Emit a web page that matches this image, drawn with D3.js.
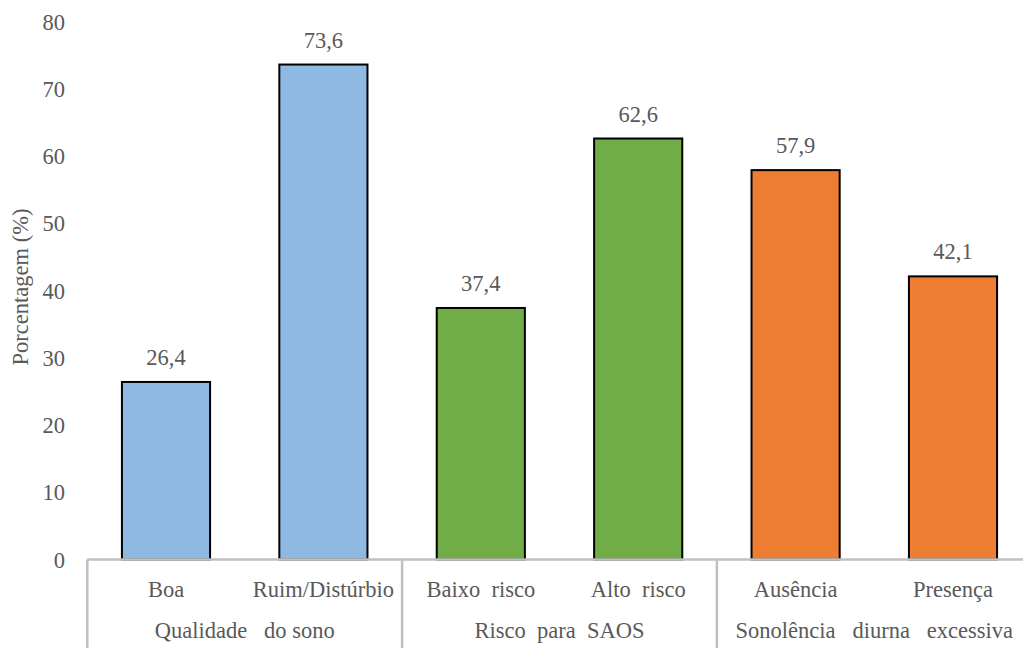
<!DOCTYPE html>
<html><head><meta charset="utf-8">
<script src="https://cdn.jsdelivr.net/npm/d3@7"></script>
</head>
<body style="margin:0;background:#fff">
<svg id="chart" width="1023" height="648"></svg>
<script>
const categories = ["Boa", "Ruim/Distúrbio", "Baixo  risco", "Alto  risco", "Ausência", "Presença"];
const values = [26.4, 73.6, 37.4, 62.6, 57.9, 42.1];
const valueLabels = ["26,4", "73,6", "37,4", "62,6", "57,9", "42,1"];
const groups = ["Qualidade   do sono", "Risco  para  SAOS", "Sonolência   diurna   excessiva"];
const groupOf = [0, 0, 1, 1, 2, 2];
const groupColors = ["#8db9e2", "#70ad47", "#ed7d31"];
const yTicks = [0, 10, 20, 30, 40, 50, 60, 70, 80];

const svg = d3.select("#chart");
const FONT = "Liberation Serif";
const textColor = "#595959";
const left = 87.3, right = 1031.7, y0 = 559.5, yTop = 21.5;
const x = d3.scaleBand().domain(categories).range([left, right]).paddingInner(0.44).paddingOuter(0.22);
const y = d3.scaleLinear().domain([0, 80]).range([y0, yTop]);
const fs = 22.5;

function styleText(sel) {
  return sel.attr("font-family", FONT).attr("font-size", fs).attr("fill", textColor).style("white-space", "pre");
}

// y tick labels
const yAxis = d3.axisLeft(y).tickValues(yTicks).tickSize(0).tickPadding(0).tickFormat(d3.format("d"));
const ya = svg.append("g").attr("transform", "translate(65,0)").call(yAxis);
ya.attr("font-family", FONT).attr("font-size", fs);
ya.select(".domain").remove();
styleText(ya.selectAll("text")).attr("dy", "0.34em");

// y title
styleText(svg.append("text").attr("transform", "translate(28,287) rotate(-90)")
  .attr("text-anchor", "middle")).text("Porcentagem (%)");

// bars
svg.append("g").selectAll("rect").data(categories).join("rect")
  .attr("x", d => x(d)).attr("width", x.bandwidth())
  .attr("y", (d, i) => y(values[i])).attr("height", (d, i) => y0 - y(values[i]))
  .attr("fill", (d, i) => groupColors[groupOf[i]])
  .attr("stroke", "#000").attr("stroke-width", 2);

// value labels
styleText(svg.append("g").selectAll("text").data(categories).join("text")
  .attr("x", d => x(d) + x.bandwidth() / 2).attr("y", (d, i) => y(values[i]) - 17)
  .attr("text-anchor", "middle")).text((d, i) => valueLabels[i]);

// x axis line
const axisColor = "#c0c0c0";
svg.append("line").attr("x1", left).attr("x2", right).attr("y1", y0).attr("y2", y0)
  .attr("stroke", axisColor).attr("stroke-width", 2.5);

// group separators
const step = x.step();
const seps = [0, 2, 4, 6].map(k => left + k * step);
svg.append("g").selectAll("line").data(seps).join("line")
  .attr("x1", d => d).attr("x2", d => d).attr("y1", y0).attr("y2", 648)
  .attr("stroke", axisColor).attr("stroke-width", 2.5);

// category labels
styleText(svg.append("g").selectAll("text").data(categories).join("text")
  .attr("x", d => x(d) + x.bandwidth() / 2).attr("y", 597)
  .attr("text-anchor", "middle")).text(d => d);

// group labels
styleText(svg.append("g").selectAll("text").data(groups).join("text")
  .attr("x", (d, i) => left + (2 * i + 1) * step).attr("y", 638)
  .attr("text-anchor", "middle")).text(d => d);
</script>
</body></html>
